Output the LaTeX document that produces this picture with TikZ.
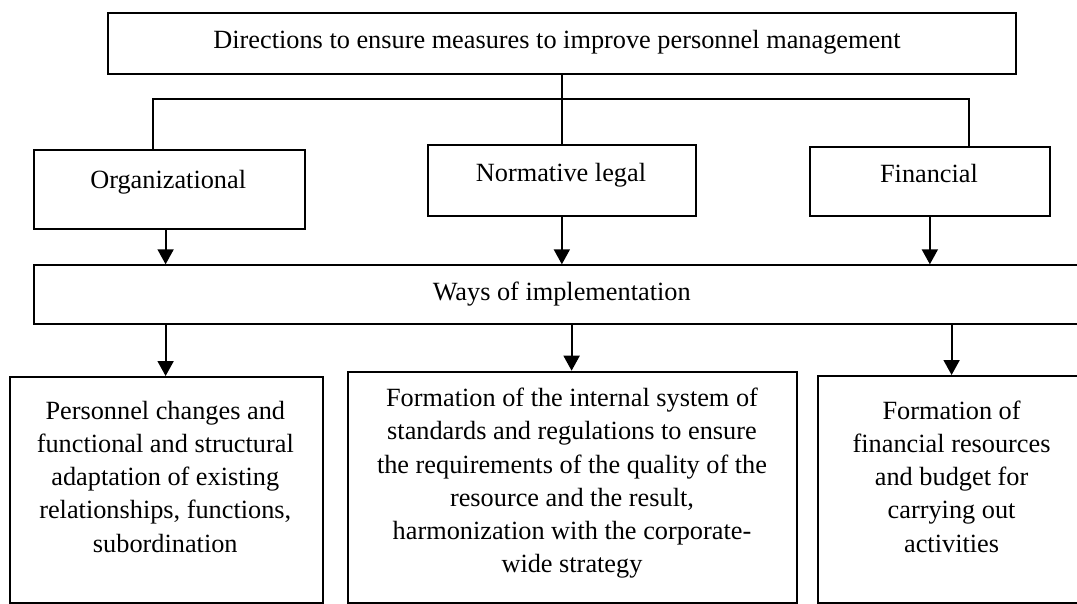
\documentclass[tikz,border=0pt]{standalone}
\usepackage{fontspec}
\setmainfont{Liberation Serif}
\usetikzlibrary{arrows.meta}
\tikzset{
  box/.style={draw, line width=2pt, rectangle, inner sep=0pt, anchor=north west},
  link/.style={line width=1.3pt},
  arr/.style={line width=1.9pt, -{Triangle[width=16pt,length=15pt]}},
  txt/.style={inner sep=0pt, anchor=base, font=\fontsize{26.3}{33.2}\selectfont},
}
\newcommand{\pbx}[2]{\parbox[t]{#1}{\centering\fontsize{26.3}{33.2}\selectfont #2}}
\begin{document}
\begin{tikzpicture}[x=1pt,y=-1pt]
\useasboundingbox (0,0) rectangle (1077,603);
\clip (0,0) rectangle (1077,603);
% top
\node[box, minimum width=908pt, minimum height=61.6pt] (top) at (106.7,11.7) {};
\node[txt] (topT) at (557,48) {Directions to ensure measures to improve personnel management};
% second row
\node[box, minimum width=271pt, minimum height=78.5pt] (org) at (32.7,149.3) {};
\node[txt] (orgT) at (168.2,188.3) {Organizational};
\node[box, minimum width=267.7pt, minimum height=70.7pt] (nor) at (427,144.3) {};
\node[txt] (norT) at (561,181.3) {Normative legal};
\node[box, minimum width=240.3pt, minimum height=69.3pt] (fin) at (808.7,145.7) {};
\node[txt] (finT) at (929,182.7) {Financial};
% ways
\node[box, minimum width=1080pt, minimum height=59pt] (ways) at (32.7,264.3) {};
\node[txt] (waysT) at (561.7,300) {Ways of implementation};
% bottom row
\node[box, minimum width=313.4pt, minimum height=225.5pt] (b1) at (8.6,376) {};
\node[inner sep=0pt, anchor=base] (b1T) at (165.3,419.3) {\pbx{300pt}{Personnel changes and\\functional and structural\\adaptation of existing\\relationships, functions,\\subordination}};
\node[box, minimum width=449.2pt, minimum height=230.8pt] (b2) at (346.8,370.7) {};
\node[inner sep=0pt, anchor=base] (b2T) at (572,406.7) {\pbx{440pt}{Formation of the internal system of\\standards and regulations to ensure\\the requirements of the quality of the\\resource and the result,\\harmonization with the corporate-\\wide strategy}};
\node[box, minimum width=269pt, minimum height=226.5pt] (b3) at (817,375) {};
\node[inner sep=0pt, anchor=base] (b3T) at (951.6,419.3) {\pbx{260pt}{Formation of\\financial resources\\and budget for\\carrying out\\activities}};
% connectors from top
\coordinate (hl) at (153,99);
\coordinate (hr) at (969,99);
\draw[link] (top.south -| nor.north) -- (nor.north);
\draw[link] (org.north -| hl) -- (hl) -- (hr) -- (fin.north -| hr);
% arrows to ways
\draw[arr] (org.south -| 165.6,0) -- (ways.north -| 165.6,0);
\draw[arr] (nor.south) -- (ways.north -| nor.south);
\draw[arr] (fin.south) -- (ways.north -| fin.south);
% arrows to bottom boxes
\draw[arr] (ways.south -| 165.6,0) -- (b1.north -| 165.6,0);
\draw[arr] (ways.south -| 571.6,0) -- (b2.north -| 571.6,0);
\draw[arr] (ways.south -| 951.6,0) -- (b3.north -| 951.6,0);
\end{tikzpicture}
\end{document}
